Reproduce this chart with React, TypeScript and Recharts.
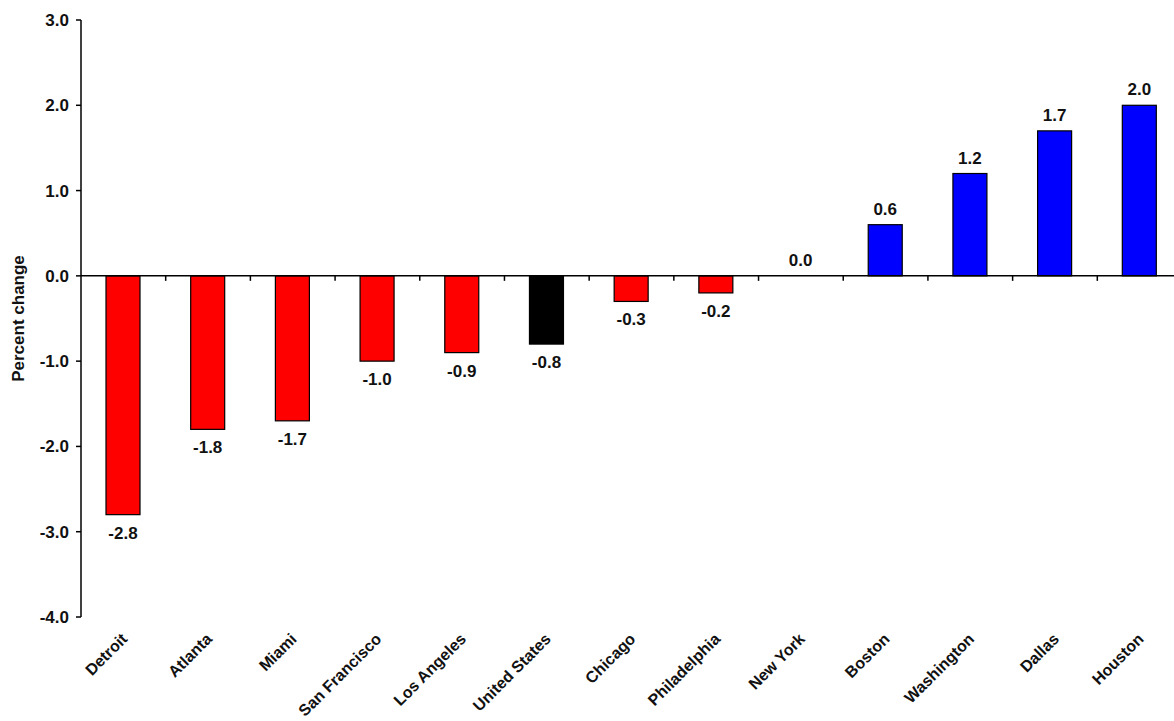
import React from "react";
import { BarChart, Bar, XAxis, YAxis, ReferenceLine } from "recharts";

// Over-the-year change by metro area, ordered low to high
const cities = [
  "Detroit",
  "Atlanta",
  "Miami",
  "San Francisco",
  "Los Angeles",
  "United States",
  "Chicago",
  "Philadelphia",
  "New York",
  "Boston",
  "Washington",
  "Dallas",
  "Houston",
];
const changes = [-2.8, -1.8, -1.7, -1.0, -0.9, -0.8, -0.3, -0.2, 0.0, 0.6, 1.2, 1.7, 2.0];
const yTicks = [-4, -3, -2, -1, 0, 1, 2, 3];
const nationName = "United States";

const data = cities.map((city, i) => ({ city, change: changes[i] }));

const FONT = '"Liberation Sans", Arial, Helvetica, sans-serif';
const INK = "#111";
const TEXT_SIZE = 17;

function barFill(city: string, value: number) {
  if (city === nationName) return "#000000";
  return value > 0 ? "#0000FF" : "#FF0000";
}

// slanted city names under the plot
const CityTick = (props: any) => {
  const { x, y, payload } = props;
  return (
    <g transform={`translate(${x + 5},${y + 23})`}>
      <text
        textAnchor="end"
        transform="rotate(-45)"
        fontSize={16}
        fontWeight="bold"
        fontFamily={FONT}
        fill={INK}
      >
        {payload.value}
      </text>
    </g>
  );
};

// bar plus its value; the value sits above positive bars and below negative ones.
// zero-height bars still get their label this way
const ValueBar = (props: any) => {
  const { x, y, width, height, payload } = props;
  const value = payload.change;
  const top = Math.min(y, y + height);
  const bottom = Math.max(y, y + height);
  const h = bottom - top;
  const ty = value < 0 ? bottom + 24 : top - 10;
  return (
    <g>
      {h > 0 && (
        <rect
          x={x}
          y={top}
          width={width}
          height={h}
          fill={barFill(payload.city, value)}
          stroke="#000"
          strokeWidth={1.2}
        />
      )}
      <text
        x={x + width / 2}
        y={ty}
        textAnchor="middle"
        fontSize={TEXT_SIZE}
        fontWeight="bold"
        fontFamily={FONT}
        fill={INK}
      >
        {Number(value).toFixed(1)}
      </text>
    </g>
  );
};

// zero baseline with small marks between categories
const ZeroLine = (props: any) => {
  const { x1, x2, y1 } = props;
  const step = (x2 - x1) / cities.length;
  const marks = [];
  for (let i = 1; i < cities.length; i++) {
    const mx = x1 + step * i;
    marks.push(
      <line key={i} x1={mx} x2={mx} y1={y1} y2={y1 + 5} stroke="#000" strokeWidth={1.5} />
    );
  }
  return (
    <g>
      <line x1={x1} x2={x2 + 20} y1={y1} y2={y1} stroke="#000" strokeWidth={1.5} />
      {marks}
    </g>
  );
};

const AxisTitle = (props: any) => {
  const { viewBox } = props;
  const cy = viewBox.y + viewBox.height / 2;
  const cx = viewBox.x + 10;
  return (
    <text
      x={cx}
      y={cy}
      transform={`rotate(-90, ${cx}, ${cy})`}
      textAnchor="middle"
      dominantBaseline="central"
      fontSize={TEXT_SIZE}
      fontWeight="bold"
      fontFamily={FONT}
      fill={INK}
    >
      Percent change
    </text>
  );
};

export default function App() {
  return (
    <div
      style={{
        position: "absolute",
        left: 8,
        top: 8,
        width: 1166,
        height: 713,
        overflow: "hidden",
        background: "#fff",
      }}
    >
      <BarChart
        width={1185}
        height={713}
        data={data}
        margin={{ top: 12, right: 11, bottom: 0, left: 0 }}
      >
        <XAxis
          dataKey="city"
          axisLine={false}
          tickLine={false}
          tickSize={0}
          tickMargin={0}
          interval={0}
          height={104}
          tick={<CityTick />}
        />
        <YAxis
          domain={[-4, 3]}
          ticks={yTicks}
          width={73}
          tickSize={5}
          tickMargin={7}
          stroke="#000"
          axisLine={{ stroke: "#000", strokeWidth: 1.5 }}
          tickLine={{ stroke: "#000", strokeWidth: 1.5 }}
          tickFormatter={(v) => Number(v).toFixed(1)}
          tick={{ fontSize: TEXT_SIZE, fontWeight: "bold", fontFamily: FONT, fill: INK }}
          label={<AxisTitle />}
        />
        <Bar
          dataKey="change"
          barSize={34}
          isAnimationActive={false}
          shape={<ValueBar />}
        />
        <ReferenceLine y={0} shape={<ZeroLine />} ifOverflow="visible" />
      </BarChart>
    </div>
  );
}
